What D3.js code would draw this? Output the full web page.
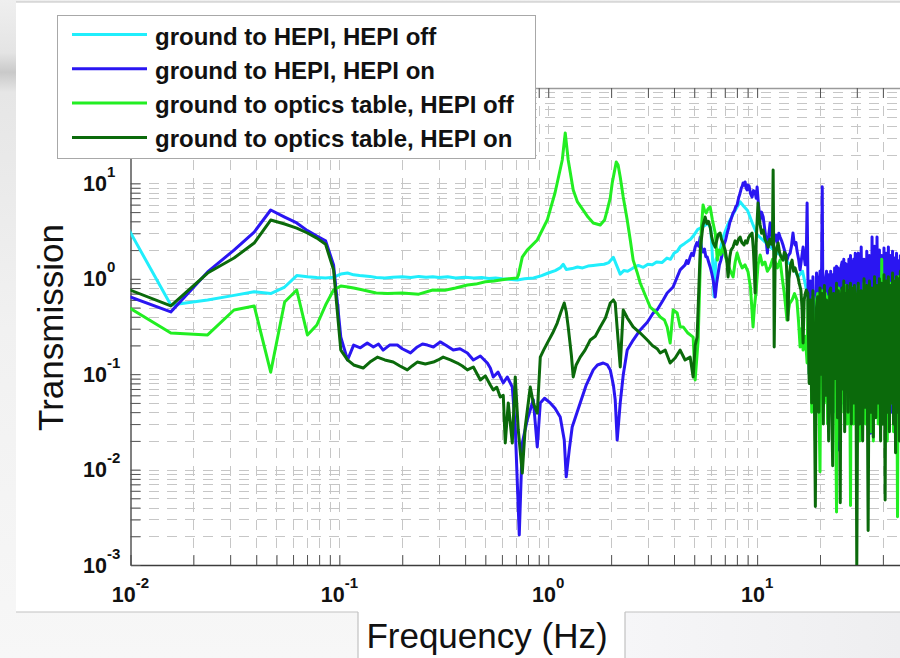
<!DOCTYPE html>
<html>
<head>
<meta charset="utf-8">
<script src="https://cdn.jsdelivr.net/npm/d3@7"></script>
<style>
  html, body { margin: 0; padding: 0; background: #fff; }
  svg { display: block; }
</style>
</head>
<body>
<svg id="chart" width="900" height="658"></svg>
<script>
// ---- Transmission measurements: [frequency Hz, transmission] ----
const groundToHepiOff = [
  [0.0078, 8.1], [0.0156, 0.53], [0.0234, 0.60], [0.0313, 0.67], [0.0391, 0.73], [0.0469, 0.70],
  [0.0547, 0.82], [0.0625, 1.08], [0.0703, 1.05], [0.078, 1.03], [0.0859, 1.02], [0.0938, 1.04],
  [0.1016, 1.12], [0.1094, 1.15], [0.117, 1.1], [0.125, 1.08], [0.14, 1.06], [0.15, 1.03],
  [0.165, 1.02], [0.18, 1.04], [0.2, 1.05], [0.22, 1.03], [0.24, 1.06], [0.26, 1.04], [0.28, 1.05],
  [0.3, 1.03], [0.33, 1.05], [0.36, 1.02], [0.4, 1.04], [0.44, 1.02], [0.48, 1.03], [0.52, 1.01],
  [0.56, 1.02], [0.6, 1.0], [0.65, 0.99], [0.71, 0.97], [0.77, 1.0], [0.85, 1.02], [0.93, 1.08],
  [1.0, 1.15], [1.08, 1.22], [1.14, 1.3], [1.18, 1.42], [1.22, 1.25], [1.3, 1.28], [1.38, 1.33],
  [1.46, 1.3], [1.55, 1.36], [1.64, 1.38], [1.75, 1.4], [1.85, 1.42], [1.95, 1.48], [2.05, 1.68],
  [2.12, 1.4], [2.21, 1.12], [2.3, 1.22], [2.4, 1.2], [2.55, 1.3], [2.7, 1.38], [2.85, 1.32],
  [3.0, 1.42], [3.15, 1.4], [3.3, 1.5], [3.5, 1.48], [3.7, 1.65], [3.85, 1.6], [4.0, 1.85],
  [4.15, 1.95], [4.3, 2.2], [4.5, 2.35], [4.8, 2.6], [5.0, 2.9], [5.2, 3.3], [5.5, 3.5],
  [5.8, 3.8], [6.0, 3.4], [6.12, 1.6], [6.22, 0.65], [6.35, 1.6], [6.6, 1.9], [6.9, 2.8],
  [7.2, 3.6], [7.6, 4.6], [8.0, 5.6], [8.3, 6.4], [8.6, 5.8], [9.0, 5.2], [9.5, 3.8], [10, 2.9],
  [11, 2.4], [12, 2.0], [13, 1.75], [14, 1.5], [15, 1.3], [15.7, 1.05], [16.5, 1.2], [17.5, 0.65]
];

const groundToHepiOn = [
  [0.0078, 0.785], [0.0156, 0.45], [0.0234, 1.18], [0.0313, 2.0], [0.0391, 3.09], [0.0469, 5.26],
  [0.0547, 4.44], [0.0625, 3.85], [0.0703, 3.2], [0.078, 2.8], [0.0859, 2.5], [0.0938, 1.4],
  [0.1016, 0.245], [0.1094, 0.141], [0.117, 0.202], [0.126, 0.189], [0.136, 0.212], [0.1455, 0.193],
  [0.154, 0.207], [0.162, 0.179], [0.174, 0.202], [0.1895, 0.202], [0.2, 0.185], [0.219, 0.167],
  [0.236, 0.193], [0.25, 0.207], [0.264, 0.202], [0.282, 0.193], [0.304, 0.218], [0.325, 0.2],
  [0.351, 0.179], [0.378, 0.185], [0.41, 0.167], [0.438, 0.141], [0.473, 0.155], [0.511, 0.131],
  [0.528, 0.116], [0.5455, 0.0935], [0.575, 0.105], [0.609, 0.081], [0.6365, 0.0935], [0.6727, 0.0734],
  [0.695, 0.028], [0.7265, 0.00206], [0.751, 0.019], [0.793, 0.033], [0.848, 0.054], [0.886, 0.0173],
  [0.916, 0.05], [0.96, 0.056], [1.022, 0.05], [1.077, 0.044], [1.141, 0.0356], [1.193, 0.0204],
  [1.219, 0.0084], [1.26, 0.016], [1.302, 0.028], [1.422, 0.05], [1.52, 0.077], [1.642, 0.111],
  [1.72, 0.125], [1.833, 0.131], [1.92, 0.125], [1.981, 0.111], [2.05, 0.077], [2.092, 0.054],
  [2.138, 0.0204], [2.211, 0.05], [2.285, 0.098], [2.388, 0.179], [2.55, 0.228], [2.756, 0.291],
  [2.98, 0.35], [3.18, 0.438], [3.32, 0.471], [3.55, 0.6], [3.71, 0.71], [3.96, 0.82], [4.28, 1.24],
  [4.52, 1.4], [4.6, 1.55], [4.68, 1.45], [4.78, 1.69], [4.86, 1.85], [4.95, 1.75], [5.05, 2.15],
  [5.15, 2.4], [5.25, 2.2], [5.34, 2.74], [5.42, 2.1], [5.51, 1.91], [5.6, 2.05], [5.68, 1.7],
  [5.77, 1.69], [5.86, 1.5], [5.96, 1.33], [6.06, 1.15], [6.16, 0.97], [6.23, 0.8], [6.3, 0.645],
  [6.4, 0.9], [6.51, 1.15], [6.6, 1.4], [6.7, 1.55], [6.87, 2.0], [6.95, 2.3], [7.05, 2.5],
  [7.19, 3.02], [7.3, 3.4], [7.4, 3.9], [7.5, 4.2], [7.67, 4.89], [7.8, 5.2], [7.9, 5.7],
  [8.02, 5.94], [8.15, 7.0], [8.29, 7.93], [8.4, 8.9], [8.5, 9.4], [8.57, 10.1], [8.66, 9.6],
  [8.76, 10.34], [8.85, 9.0], [8.95, 8.53], [9.05, 9.6], [9.15, 9.4], [9.3, 7.8], [9.46, 7.2],
  [9.6, 8.4], [9.78, 8.1], [9.9, 7.0], [10.0, 9.17], [10.15, 6.0], [10.34, 4.13], [10.5, 5.0],
  [10.69, 4.44], [10.9, 3.2], [11.05, 2.5], [11.2, 1.86], [11.35, 2.8], [11.54, 3.85], [11.7, 3.0],
  [11.93, 2.15], [12.1, 2.6], [12.3, 2.88], [12.5, 2.4], [12.7, 3.0], [12.88, 2.74], [13.1, 2.5],
  [13.3, 2.26], [13.6, 1.9], [13.9, 1.57], [14.1, 1.75], [14.38, 1.86], [14.6, 2.2], [14.85, 3.02],
  [15.0, 2.5], [15.2, 2.26], [15.35, 2.4], [15.5, 2.0], [15.8, 1.6], [16.06, 1.24], [16.3, 1.6],
  [16.6, 2.15], [16.8, 1.7], [17.0, 1.4], [17.2, 1.8], [17.35, 6.23]
];

const groundToTableOff = [
  [0.0078, 0.68], [0.0156, 0.27], [0.0234, 0.258], [0.0313, 0.471], [0.0391, 0.519], [0.0469, 0.105],
  [0.0547, 0.571], [0.0625, 0.763], [0.0703, 0.258], [0.078, 0.328], [0.0859, 0.531], [0.0938, 0.763],
  [0.1016, 0.84], [0.11, 0.82], [0.117, 0.8], [0.13, 0.763], [0.15, 0.71], [0.17, 0.7], [0.2, 0.71],
  [0.24, 0.69], [0.28, 0.763], [0.32, 0.76], [0.36, 0.8], [0.41, 0.86], [0.45, 0.88], [0.5, 0.93],
  [0.55, 0.95], [0.59, 0.97], [0.65, 1.0], [0.71, 1.02], [0.72, 1.1], [0.751, 1.69], [0.793, 2.0],
  [0.886, 2.55], [0.989, 4.13], [1.077, 7.93], [1.167, 17.6], [1.206, 33.8], [1.246, 17.6],
  [1.317, 8.53], [1.38, 6.4], [1.47, 5.26], [1.55, 4.44], [1.642, 3.85], [1.774, 3.66], [1.86, 4.13],
  [1.916, 5.26], [1.98, 7.0], [2.024, 10.1], [2.117, 16.8], [2.16, 15.6], [2.211, 11.67], [2.285, 7.2],
  [2.388, 4.13], [2.47, 2.55], [2.55, 1.57], [2.66, 1.18], [2.756, 0.904], [2.91, 0.676], [3.076, 0.506],
  [3.32, 0.438], [3.435, 0.398], [3.6, 0.37], [3.71, 0.313], [3.834, 0.212], [3.963, 0.471],
  [4.142, 0.438], [4.281, 0.313], [4.425, 0.313], [4.66, 0.27], [4.94, 0.245], [5.05, 0.087],
  [5.22, 0.228], [5.4, 3.2], [5.51, 5.94], [5.6, 5.2], [5.7, 4.89], [5.82, 5.4], [5.96, 5.66],
  [6.1, 4.2], [6.3, 3.02], [6.45, 1.57], [6.58, 2.0], [6.7, 1.8], [6.87, 2.15], [7.05, 1.7],
  [7.26, 1.4], [7.45, 1.2], [7.67, 1.045], [7.85, 1.5], [8.02, 1.86], [8.25, 1.5], [8.48, 1.3],
  [8.75, 1.4], [9.05, 1.18], [9.3, 0.8], [9.56, 0.313], [9.7, 0.5], [9.9, 0.763], [10.1, 1.4],
  [10.34, 1.78], [10.6, 1.4], [10.9, 1.5], [11.2, 1.2], [11.54, 1.33], [11.85, 1.6], [12.2, 1.5],
  [12.5, 1.3], [12.88, 1.57], [13.2, 1.0], [13.5, 0.7], [13.9, 0.37], [14.3, 0.55], [14.7, 0.6],
  [15.1, 0.7], [15.5, 0.6], [15.8, 0.35], [16.06, 0.193], [16.3, 0.3], [16.6, 0.179], [17.0, 0.25],
  [17.35, 0.131]
];

const groundToTableOn = [
  [0.0078, 0.94], [0.0156, 0.519], [0.0234, 1.15], [0.0313, 1.65], [0.0391, 2.37], [0.0469, 4.13],
  [0.0547, 3.75], [0.0625, 3.4], [0.0703, 3.02], [0.078, 2.67], [0.0859, 2.3], [0.0938, 1.24],
  [0.1016, 0.179], [0.1094, 0.141], [0.117, 0.125], [0.13, 0.116], [0.14, 0.134], [0.152, 0.151],
  [0.165, 0.141], [0.181, 0.134], [0.195, 0.122], [0.2115, 0.111], [0.223, 0.122], [0.236, 0.134],
  [0.258, 0.128], [0.282, 0.134], [0.297, 0.141], [0.314, 0.151], [0.34, 0.141], [0.367, 0.131],
  [0.388, 0.122], [0.41, 0.111], [0.438, 0.119], [0.473, 0.087], [0.5, 0.096], [0.528, 0.077],
  [0.5455, 0.0683], [0.567, 0.073], [0.589, 0.0577], [0.609, 0.06], [0.6226, 0.019], [0.6434, 0.05],
  [0.6727, 0.019], [0.695, 0.0935], [0.7186, 0.026], [0.751, 0.0092], [0.776, 0.028], [0.82, 0.0734],
  [0.848, 0.05], [0.886, 0.039], [0.916, 0.151], [0.95, 0.179], [0.989, 0.212], [1.05, 0.27],
  [1.104, 0.344], [1.15, 0.449], [1.193, 0.558], [1.22, 0.449], [1.246, 0.313], [1.29, 0.159],
  [1.317, 0.0935], [1.36, 0.125], [1.422, 0.151], [1.5, 0.179], [1.589, 0.228], [1.68, 0.25],
  [1.774, 0.313], [1.88, 0.39], [1.981, 0.558], [2.05, 0.6], [2.092, 0.558], [2.16, 0.228],
  [2.211, 0.119], [2.285, 0.471], [2.39, 0.39], [2.55, 0.313], [2.756, 0.27], [2.98, 0.228],
  [3.15, 0.2], [3.32, 0.185], [3.435, 0.167], [3.63, 0.179], [3.834, 0.131], [4.05, 0.148],
  [4.28, 0.179], [4.52, 0.141], [4.78, 0.151], [4.94, 0.0935], [5.05, 0.2], [5.16, 0.245],
  [5.34, 2.0], [5.5, 3.6], [5.64, 4.44], [5.75, 3.8], [5.85, 4.0], [5.96, 3.49], [6.05, 2.8],
  [6.15, 2.4], [6.3, 2.15], [6.4, 2.5], [6.5, 2.9], [6.65, 3.02], [6.75, 2.6], [6.85, 2.4],
  [7.03, 2.0], [7.15, 1.6], [7.26, 1.045], [7.4, 1.7], [7.5, 2.0], [7.67, 2.15], [7.85, 2.5],
  [8.0, 2.3], [8.15, 2.6], [8.29, 2.74], [8.45, 2.4], [8.66, 2.26], [8.8, 2.5], [8.95, 2.37],
  [9.1, 2.7], [9.3, 2.9], [9.46, 3.02], [9.6, 2.0], [9.7, 1.2], [9.78, 0.71], [9.9, 2.5],
  [10.0, 4.0], [10.1, 6.23], [10.2, 4.5], [10.34, 3.66], [10.5, 3.0], [10.69, 3.25], [10.9, 2.6],
  [11.1, 2.4], [11.3, 2.15], [11.5, 2.6], [11.7, 2.3], [11.85, 3.0], [11.93, 13.8], [12.0, 2.5],
  [12.07, 0.193], [12.2, 1.6], [12.4, 2.1], [12.6, 2.37], [12.8, 1.9], [13.0, 1.7], [13.3, 1.57],
  [13.5, 1.9], [13.75, 1.78], [13.9, 1.0], [14.05, 0.37], [14.2, 1.0], [14.45, 1.4], [14.7, 1.57],
  [14.95, 1.2], [15.2, 1.3], [15.45, 1.15], [15.68, 1.045], [15.9, 0.9], [16.2, 0.763], [16.4, 0.5],
  [16.6, 0.212], [16.8, 0.6], [17.0, 0.7], [17.2, 0.763]
];

// Dense high-frequency section: 0.25 Hz steps to 30 Hz, then 0.5 Hz steps
const denseHz = [
  17.5, 17.75, 18, 18.25, 18.5, 18.75, 19, 19.25, 19.5, 19.75,
  20, 20.25, 20.5, 20.75, 21, 21.25, 21.5, 21.75, 22, 22.25,
  22.5, 22.75, 23, 23.25, 23.5, 23.75, 24, 24.25, 24.5, 24.75,
  25, 25.25, 25.5, 25.75, 26, 26.25, 26.5, 26.75, 27, 27.25,
  27.5, 27.75, 28, 28.25, 28.5, 28.75, 29, 29.25, 29.5, 29.75,
  30, 30.5, 31, 31.5, 32, 32.5, 33, 33.5, 34, 34.5,
  35, 35.5, 36, 36.5, 37, 37.5, 38, 38.5, 39, 39.5,
  40, 40.5, 41, 41.5, 42, 42.5, 43, 43.5, 44, 44.5,
  45, 45.5, 46, 46.5, 47, 47.5, 48, 48.5, 49, 49.5,
  50
];
const hepiOnDense = [
  1.1, 0.1, 0.95, 0.06, 1.05, 0.2, 0.05, 1.15, 0.9, 0.08,
  1.2, 0.3, 9.2, 0.07, 0.1, 1.0, 1.2, 0.06, 1.1, 0.15,
  1.2, 0.05, 1.1, 0.2, 1.3, 0.04, 1.35, 0.1, 1.3, 0.016,
  0.9, 1.35, 1.5, 0.05, 1.6, 0.2, 1.45, 0.06, 1.4, 0.12,
  1.6, 0.04, 1.75, 0.1, 1.5, 0.05, 1.6, 0.15, 1.85, 0.06,
  1.5, 1.85, 0.04, 2.15, 0.05, 1.6, 0.06, 1.95, 0.05, 1.75,
  0.024, 2.74, 0.06, 2.2, 0.05, 2.74, 0.04, 2.0, 0.06, 1.75,
  0.05, 2.1, 0.04, 1.85, 0.06, 2.15, 0.05, 1.75, 0.04, 1.95,
  0.06, 1.65, 0.05, 1.85, 0.04, 1.55, 0.06, 1.75, 0.05, 1.6,
  0.04
];
const tableOffDense = [
  0.6, 0.1, 0.55, 0.04, 0.65, 0.15, 0.02, 0.6, 0.7, 0.06,
  0.0095, 0.55, 0.75, 0.08, 0.05, 0.7, 0.6, 0.03, 0.65, 0.12,
  0.7, 0.04, 0.6, 0.1, 0.65, 0.05, 0.0036, 0.7, 0.8, 0.06,
  0.02, 0.75, 0.7, 0.09, 0.04, 0.8, 0.85, 0.05, 0.03, 0.7,
  0.65, 0.1, 0.0042, 0.75, 0.8, 0.04, 0.03, 0.7, 0.7, 0.06,
  0.045, 0.85, 0.02, 0.65, 0.04, 0.9, 0.03, 0.75, 0.05, 0.85,
  0.025, 0.7, 0.02, 0.95, 0.04, 0.8, 0.03, 0.9, 0.05, 1.6,
  0.03, 0.95, 0.04, 0.85, 0.02, 1.0, 0.035, 0.9, 0.05, 1.05,
  0.025, 0.95, 0.04, 1.0, 0.0032, 1.05, 0.03, 0.9, 0.04, 1.1,
  0.02
];
const tableOnDense = [
  0.7, 0.08, 0.6, 0.05, 0.75, 0.12, 0.0041, 0.5, 0.65, 0.04,
  0.8, 0.1, 0.7, 0.03, 0.85, 0.06, 0.6, 0.15, 0.02, 0.75,
  0.8, 0.05, 0.011, 0.7, 0.6, 0.09, 0.9, 0.035, 0.75, 0.12,
  0.0045, 0.65, 0.8, 0.07, 0.95, 0.025, 0.7, 0.1, 0.85, 0.04,
  0.75, 0.06, 0.9, 0.03, 0.8, 0.13, 0.05, 0.85, 0.7, 0.08,
  0.00095, 0.9, 0.03, 0.75, 0.02, 1.0, 0.045, 0.85, 0.0023, 0.95,
  0.04, 0.8, 0.022, 1.05, 0.035, 0.85, 0.05, 1.0, 0.02, 0.9,
  0.03, 1.1, 0.0048, 0.95, 0.04, 1.05, 0.025, 0.85, 0.05, 1.15,
  0.03, 0.95, 0.015, 1.05, 0.04, 1.0, 0.02, 1.2, 0.05, 0.95,
  0.03
];

const seriesLabels = [
  "ground to HEPI, HEPI off",
  "ground to HEPI, HEPI on",
  "ground to optics table, HEPI off",
  "ground to optics table, HEPI on"
];
const seriesColors = ["#20eefc", "#2a16f2", "#22ee22", "#0b6a0b"];

const xTickExponents = [-2, -1, 0, 1];
const yTickExponents = [-3, -2, -1, 0, 1];

// ---- assemble series ----
const withDense = (base, dense) => base.concat(denseHz.map((f, i) => [f, dense[i]]));
const series = [
  groundToHepiOff,
  withDense(groundToHepiOn, hepiOnDense),
  withDense(groundToTableOff, tableOffDense),
  withDense(groundToTableOn, tableOnDense)
];

// ---- layout ----
const svg = d3.select("#chart");
const W = 900, H = 658;
const plot = { left: 130.5, right: 966, top: 88, bottom: 565 };

const x = d3.scaleLog().domain([0.01, 100]).range([plot.left, plot.right]);
const y = d3.scaleLog().domain([0.001, 100]).range([plot.bottom, plot.top]);

const defs = svg.append("defs");
const bgGrad = defs.append("linearGradient").attr("id", "bgGrad")
  .attr("x1", 0).attr("y1", 0).attr("x2", 0).attr("y2", 1);
[[0, "#efefef"], [0.08, "#e4e4e4"], [0.11, "#c9c9c9"], [0.14, "#e6e6e6"], [0.5, "#f1f1f1"], [1, "#f7f7f7"]]
  .forEach(([o, c]) => bgGrad.append("stop").attr("offset", o).attr("stop-color", c));
const boxGrad = defs.append("linearGradient").attr("id", "boxGrad")
  .attr("x1", 0).attr("y1", 0).attr("x2", 1).attr("y2", 0);
[[0, "#f6f6f8"], [1, "#eeeef0"]].forEach(([o, c]) => boxGrad.append("stop").attr("offset", o).attr("stop-color", c));

defs.append("clipPath").attr("id", "plotClip").append("rect")
  .attr("x", plot.left).attr("y", plot.top)
  .attr("width", plot.right - plot.left).attr("height", plot.bottom - plot.top);

// slide background and white panel
svg.append("rect").attr("width", W).attr("height", H).attr("fill", "url(#bgGrad)");
svg.append("rect").attr("x", 16).attr("y", 2).attr("width", W - 16).attr("height", 610).attr("fill", "#fff");
svg.append("rect").attr("x", 358).attr("y", 612).attr("width", 267).attr("height", 46).attr("fill", "#fff");
svg.append("rect").attr("x", 625).attr("y", 612).attr("width", 275).attr("height", 46).attr("fill", "url(#boxGrad)");
const frameLines = [
  [16, 2, W, 2], [16, 612, 358, 612], [358, 612, 358, H], [625, 612, W, 612], [625, 612, 625, H]
];
svg.append("g").selectAll("line").data(frameLines).join("line")
  .attr("x1", d => d[0]).attr("y1", d => d[1]).attr("x2", d => d[2]).attr("y2", d => d[3])
  .attr("stroke", "#c2c2c2").attr("stroke-width", 1.2);

// ---- grid ----
const decadeValues = (lo, hi) => {
  const out = [];
  for (let e = lo; e < hi; e++) for (let k = 1; k <= 9; k++) out.push(k * Math.pow(10, e));
  out.push(Math.pow(10, hi));
  return out;
};
const xGridVals = decadeValues(-2, 2);
const yGridVals = decadeValues(-3, 2);

const grid = svg.append("g").attr("stroke", "#c6c6c6").attr("stroke-width", 1)
  .attr("stroke-dasharray", "10,8").attr("shape-rendering", "crispEdges");
grid.selectAll("line.v").data(xGridVals.filter(v => v > 0.0101 && v < 99)).join("line").attr("class", "v")
  .attr("x1", d => Math.round(x(d)) + 0.5).attr("x2", d => Math.round(x(d)) + 0.5)
  .attr("y1", plot.top).attr("y2", plot.bottom);
grid.selectAll("line.h").data(yGridVals.filter(v => v > 0.00101 && v < 99)).join("line").attr("class", "h")
  .attr("y1", d => Math.round(y(d)) + 0.5).attr("y2", d => Math.round(y(d)) + 0.5)
  .attr("x1", plot.left).attr("x2", plot.right);

// ---- axes (inward ticks) ----
const styleAxis = g => {
  g.select(".domain").attr("stroke", "#3c3c3c").attr("stroke-width", 1.3);
  g.selectAll(".tick line").attr("stroke", "#555").attr("stroke-width", 1);
  g.selectAll(".tick text").remove();
};
svg.append("g").attr("transform", `translate(0,${plot.bottom})`)
  .call(d3.axisBottom(x).tickValues(xGridVals).tickSize(-10).tickSizeOuter(0).tickFormat(() => ""))
  .call(styleAxis);
svg.append("g").attr("transform", `translate(${plot.left},0)`)
  .call(d3.axisLeft(y).tickValues(yGridVals).tickSize(-10).tickSizeOuter(0).tickFormat(() => ""))
  .call(styleAxis);
svg.append("g").attr("transform", `translate(0,${plot.top})`)
  .call(d3.axisTop(x).tickValues(xGridVals).tickSize(-10).tickSizeOuter(0).tickFormat(() => ""))
  .call(g => { styleAxis(g); g.select(".domain").attr("stroke", "#9a9a9a"); });

// ---- data lines ----
const line = d3.line().x(d => x(d[0])).y(d => y(d[1]));
svg.append("g").attr("clip-path", "url(#plotClip)")
  .selectAll("path").data(series).join("path")
  .attr("d", line)
  .attr("fill", "none")
  .attr("stroke", (d, i) => seriesColors[i])
  .attr("stroke-width", 3)
  .attr("stroke-linejoin", "round");

// ---- tick labels (10 with superscript exponent) ----
const labelFont = "'Liberation Sans', Arial, sans-serif";
const powerLabel = (sel, e) => {
  sel.append("tspan").text("10");
  sel.append("tspan").attr("dy", -14).attr("font-size", 15).text(e);
};
svg.append("g").selectAll("text").data(xTickExponents).join("text")
  .attr("x", e => x(Math.pow(10, e))).attr("y", 602)
  .attr("text-anchor", "middle").attr("font-family", labelFont)
  .attr("font-weight", "bold").attr("font-size", 21.5).attr("fill", "#111")
  .each(function (e) { powerLabel(d3.select(this), e); });
svg.append("g").selectAll("text").data(yTickExponents).join("text")
  .attr("x", 83).attr("y", e => y(Math.pow(10, e)) + 7.5)
  .attr("font-family", labelFont)
  .attr("font-weight", "bold").attr("font-size", 21.5).attr("fill", "#111")
  .each(function (e) { powerLabel(d3.select(this), e); });

// ---- axis titles ----
svg.append("text").attr("x", 487).attr("y", 648).attr("text-anchor", "middle")
  .attr("font-family", labelFont).attr("font-size", 35).attr("fill", "#111")
  .text("Frequency (Hz)");
svg.append("text").attr("transform", "translate(63,327.5) rotate(-90)").attr("text-anchor", "middle")
  .attr("font-family", labelFont).attr("font-size", 35).attr("fill", "#111")
  .text("Transmission");

// ---- legend ----
const legend = svg.append("g");
legend.append("rect").attr("x", 57.5).attr("y", 15.5).attr("width", 478).attr("height", 143)
  .attr("fill", "#fff").attr("stroke", "#a8a8a8").attr("stroke-width", 1);
const rows = legend.selectAll("g.row").data(seriesLabels).join("g").attr("class", "row")
  .attr("transform", (d, i) => `translate(0,${34.5 + i * 34.3})`);
rows.append("line").attr("x1", 72).attr("x2", 147).attr("y1", 0).attr("y2", 0)
  .attr("stroke", (d, i) => seriesColors[i]).attr("stroke-width", 3);
rows.append("text").attr("x", 155).attr("y", 10).attr("font-family", labelFont)
  .attr("font-weight", "bold").attr("font-size", 24).attr("fill", "#111").text(d => d);
</script>
</body>
</html>
